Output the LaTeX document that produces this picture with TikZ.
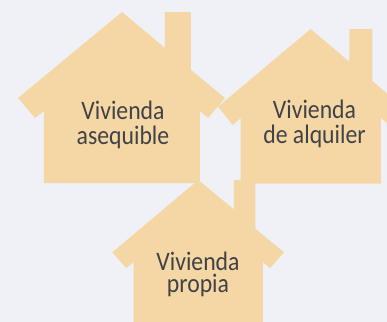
\documentclass[tikz,border=0pt]{standalone}
\usepackage{fontspec}
\setmainfont[FakeStretch=0.89]{Carlito}
\definecolor{pagebg}{HTML}{EFF1F6}
\definecolor{housefill}{HTML}{F5D7A5}
\definecolor{labeltext}{HTML}{414247}

\begin{document}
\begin{tikzpicture}[
x=0.75pt, y=-0.75pt,
housenode/.style={fill=housefill, draw=none},
labelnode/.style={text=labeltext, align=center, inner sep=0pt, anchor=base},
biglabel/.style={labelnode, font=\fontsize{20}{18.5}\selectfont},
smalllabel/.style={labelnode, font=\fontsize{20}{16.2}\selectfont},
]
\useasboundingbox (0,0) rectangle (387,322);
\fill[pagebg] (0,0) rectangle (387,322);
\clip (0,0) rectangle (387,322);

%Houses
\path[housenode] (122,12) -- (165,48) -- (165,12) -- (191,12) -- (191,70) -- (225,98)
  -- (208,118) -- (200,111) -- (200,183) -- (44,183) -- (44,111) -- (35,118) -- (18,98) -- cycle;
\path[housenode] (310.7,29) -- (349.3,61.7) -- (349.3,29) -- (372.3,29) -- (372.3,81) -- (403,106.7)
  -- (389,125) -- (381,118) -- (381,183.7) -- (240.7,183.7) -- (240.7,118) -- (232.7,125) -- (218,106.7) -- cycle;
\path[housenode] (198.3,180) -- (234,209.5) -- (234,180) -- (255.3,180) -- (255.3,228.7) -- (284,252.3)
  -- (270.3,268) -- (263,262.3) -- (263,330) -- (133.7,330) -- (133.7,262.3) -- (126,268) -- (112.3,252.3) -- cycle;

%Nodes
\node[biglabel] (asequible) at (123,144) {Vivienda\\asequible};
\node[biglabel] (alquiler) at (314.5,143.3) {Vivienda\\de alquiler};
\node[smalllabel] (propia) at (198,292) {Vivienda\\propia};
\end{tikzpicture}
\end{document}
